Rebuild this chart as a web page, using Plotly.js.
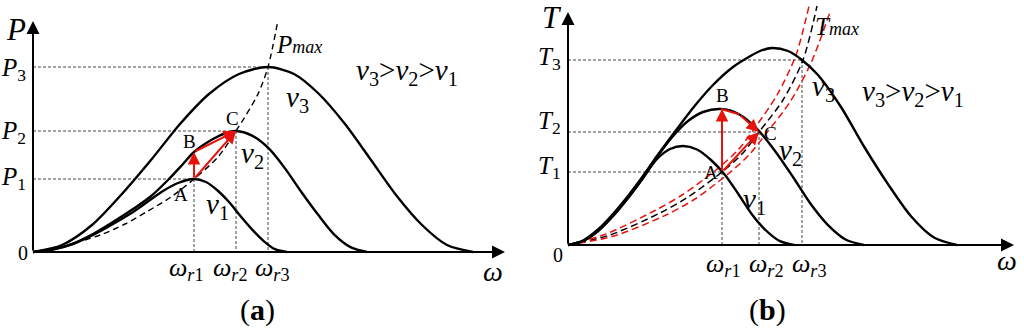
<!DOCTYPE html>
<html>
<head>
<meta charset="utf-8">
<script src="https://cdn.plot.ly/plotly-3.0.1.min.js"></script>
<style>html,body{margin:0;padding:0;background:#fff}</style>
</head>
<body>
<div id="chart" style="width:1024px;height:333px"></div>
<script>
// panel (a): P against omega (arbitrary units)
const aV1x = [0, 20, 40, 60, 80, 100, 117, 130, 145, 161, 173, 184, 196, 207, 219, 231, 242, 254];
const aV1y = [0, 2.5, 8, 17, 28, 40, 52, 61, 69, 73, 70, 62, 50, 36.5, 22.6, 10.7, 2.8, 0];
const aV2x = [0, 20, 40, 60, 80, 100, 117, 135, 150, 161, 180, 193, 203, 219, 236, 252, 268, 285, 301, 318, 334];
const aV2y = [0, 2.6, 8.5, 18, 30, 43, 55, 72, 88, 100, 113, 119, 121, 116.4, 103.3, 83.6, 60.5, 37.4, 17.7, 4.6, 0];
const aV3x = [0, 29, 59, 88, 118, 147, 176, 206, 235, 261, 286, 312, 338, 363, 389, 414, 440];
const aV3y = [0, 7, 27, 57, 92, 128, 158, 178, 185, 178, 158, 128, 92, 57, 27, 7, 0];
const aPmaxX = [52, 70, 92, 115, 138, 161, 185, 203, 225, 235, 245];
const aPmaxY = [12, 18, 28, 41, 55, 73, 95, 121, 158, 185, 232];
const aOmega = [161, 203, 235];   // omega_r1..r3
const aLevel = [73, 121, 185];    // P1..P3
const aA = [161, 73], aB = [161, 100], aC = [203, 121];

// panel (b): T against omega
const bV1x = [0, 15, 30, 45, 60, 75, 89, 102, 115, 129, 143, 157, 171, 184, 198, 212, 226];
const bV1y = [0, 4, 14, 29, 47, 67, 86, 96, 99, 95.5, 85, 70, 50, 30.6, 14.5, 3.8, 0];
const bV2x = [0, 15, 30, 45, 60, 75, 89, 106, 120, 135, 153, 171, 189, 207, 225, 242, 260, 278, 296];
const bV2y = [0, 4, 14, 29, 47, 67, 88, 110, 124, 133, 136, 130.8, 116.1, 94, 68, 42, 19.9, 5.2, 0];
const bV3x = [0, 15, 30, 45, 60, 75, 89, 106, 125, 145, 165, 179, 192, 204, 220, 234, 250, 273, 296, 320, 343, 366, 389];
const bV3y = [0, 4.5, 15.5, 31, 49, 69, 89, 112, 137, 160, 178, 187, 194, 197, 194, 185, 170, 138, 98.5, 60.9, 28.8, 7.5, 0];
const bTmaxX = [0, 42, 92, 120, 154, 175, 191, 215, 235, 249];
const bTmaxY = [0, 10, 32, 48, 73, 92, 113, 145, 185, 239];
const bRedUpX = [0, 38, 86, 114, 148, 170, 186, 209, 228, 241];
const bRedUpY = [0, 11, 34, 50, 75, 95, 116, 150, 190, 239];
const bRedLoX = [0, 46, 98, 127, 160, 181, 197, 222, 243, 262];
const bRedLoY = [0, 9, 30, 46, 71, 90, 110, 143, 182, 233];
const bOmega = [154, 191, 234];
const bLevel = [73, 113, 185];
const bA = [154, 73], bB = [154, 136], bC = [191, 113];

const RED = '#e8120c';
const FONT = 'Liberation Serif, Times New Roman, serif';

function curve(x, y, xa, ya, color, dash, w) {
    return { x, y, xaxis: xa, yaxis: ya, mode: 'lines', cliponaxis: false, hoverinfo: 'skip',
             line: { color, width: w || 2.4, dash: dash || 'solid', shape: 'spline', smoothing: 0.8 } };
}

// thin dashed guides: horizontal to the point, vertical down to the axis
function guides(om, lev, xa, ya) {
    let xs = [], ys = [];
    for (let i = 0; i < om.length; i++) {
        xs.push(0, om[i], null, om[i], om[i], null);
        ys.push(lev[i], lev[i], null, lev[i], 0, null);
    }
    return { x: xs, y: ys, xaxis: xa, yaxis: ya, mode: 'lines', hoverinfo: 'skip',
             line: { color: '#444', width: 1, dash: '3px,2px' } };
}

// red line along v2 from B towards C (panel b)
let bArcX = [], bArcY = [];
bV2x.forEach((x, i) => { if (x >= bB[0] - 1 && x <= 171) { bArcX.push(x); bArcY.push(bV2y[i]); } });

const data = [
    guides(aOmega, aLevel, 'x', 'y'),
    guides(bOmega, bLevel, 'x2', 'y2'),
    curve(aPmaxX, aPmaxY, 'x', 'y', '#000', '6px,4px', 1.4),
    curve(aV1x, aV1y, 'x', 'y', '#000'),
    curve(aV2x, aV2y, 'x', 'y', '#000'),
    curve(aV3x, aV3y, 'x', 'y', '#000'),
    curve(bTmaxX, bTmaxY, 'x2', 'y2', '#000', '7px,4px', 1.5),
    curve(bRedUpX, bRedUpY, 'x2', 'y2', RED, '7px,4px', 1.5),
    curve(bRedLoX, bRedLoY, 'x2', 'y2', RED, '7px,4px', 1.5),
    curve(bV1x, bV1y, 'x2', 'y2', '#000'),
    curve(bV2x, bV2y, 'x2', 'y2', '#000'),
    curve(bV3x, bV3y, 'x2', 'y2', '#000'),
    curve(bArcX, bArcY, 'x2', 'y2', RED, 'solid', 2)
];

function arrow(from, to, xa, ya, color, size) {
    return { x: to[0], y: to[1], ax: from[0], ay: from[1], xref: xa, yref: ya, axref: xa, ayref: ya,
             text: '', showarrow: true, arrowhead: 2, arrowsize: size || 1, arrowwidth: 2,
             arrowcolor: color, standoff: 0, startstandoff: 0 };
}
function label(text, x, y, xa, ya, size, opts) {
    return Object.assign({ text, x, y, xref: xa, yref: ya, showarrow: false,
             font: { family: FONT, size, color: '#000' } }, opts || {});
}

const sub = (n) => '<sub>' + n + '</sub>';
const ann = [
    // axes
    arrow([0, 0], [472, 0], 'x', 'y', '#000', 1.3),
    arrow([0, 0], [0, 231], 'x', 'y', '#000', 1.3),
    arrow([0, 0], [446, 0], 'x2', 'y2', '#000', 1.3),
    arrow([0, 0], [0, 233], 'x2', 'y2', '#000', 1.3),
    // red transitions
    arrow(aA, aB, 'x', 'y', RED, 1.25),
    arrow(aB, aC, 'x', 'y', RED, 1.25),
    arrow(aA, aC, 'x', 'y', RED, 1.25),
    arrow(bA, bB, 'x2', 'y2', RED, 1.25),
    arrow([171, 130.8], bC, 'x2', 'y2', RED, 1.25),
    arrow(bA, bC, 'x2', 'y2', RED, 1.25),

    // panel (a) text
    label('<i>P</i>', -17, 223, 'x', 'y', 31),
    label('<i>P</i>' + sub(3), -5, aLevel[2], 'x', 'y', 25, { xanchor: 'right', yshift: -2 }),
    label('<i>P</i>' + sub(2), -5, aLevel[1], 'x', 'y', 25, { xanchor: 'right', yshift: -1 }),
    label('<i>P</i>' + sub(1), -5, aLevel[0], 'x', 'y', 25, { xanchor: 'right', yshift: 1 }),
    label('0', -3, 0, 'x', 'y', 20, { xanchor: 'right', yshift: -1 }),
    label('<i>ω</i>' + sub('<i>r</i>1'), aOmega[0], -17, 'x', 'y', 26, { xshift: -8 }),
    label('<i>ω</i>' + sub('<i>r</i>2'), aOmega[1], -17, 'x', 'y', 26, { xshift: -6 }),
    label('<i>ω</i>' + sub('<i>r</i>3'), aOmega[2], -17, 'x', 'y', 26, { xshift: 4 }),
    label('<i>ω</i>', 460, -19, 'x', 'y', 28),
    label('(<b>a</b>)', 224, -58, 'x', 'y', 30),
    label('A', 148, 58, 'x', 'y', 19),
    label('B', 156, 111, 'x', 'y', 19),
    label('C', 199, 134, 'x', 'y', 19),
    label('<i>v</i>' + sub(1), 184, 46, 'x', 'y', 29),
    label('<i>v</i>' + sub(2), 219, 97, 'x', 'y', 29),
    label('<i>v</i>' + sub(3), 264, 153, 'x', 'y', 29),
    label('<i>P<span style="font-size:18px">max</span></i>', 266, 208, 'x', 'y', 25),
    label('<i>v</i>' + sub(3) + '><i>v</i>' + sub(2) + '><i>v</i>' + sub(1), 374, 180, 'x', 'y', 29),

    // panel (b) text
    label('<i>T</i>', -16, 228, 'x2', 'y2', 31),
    label('<i>T</i>' + sub(3), -5, bLevel[2], 'x2', 'y2', 25, { xanchor: 'right', yshift: 2 }),
    label('<i>T</i>' + sub(2), -5, bLevel[1], 'x2', 'y2', 25, { xanchor: 'right', yshift: 10 }),
    label('<i>T</i>' + sub(1), -5, bLevel[0], 'x2', 'y2', 25, { xanchor: 'right', yshift: 5 }),
    label('0', -3, 0, 'x2', 'y2', 20, { xanchor: 'right', yshift: -10 }),
    label('<i>ω</i>' + sub('<i>r</i>1'), bOmega[0], -20, 'x2', 'y2', 26, { xshift: 1 }),
    label('<i>ω</i>' + sub('<i>r</i>2'), bOmega[1], -20, 'x2', 'y2', 26, { xshift: 7 }),
    label('<i>ω</i>' + sub('<i>r</i>3'), bOmega[2], -20, 'x2', 'y2', 26, { xshift: 7 }),
    label('<i>ω</i>', 439, -15, 'x2', 'y2', 28),
    label('(<b>b</b>)', 199, -65, 'x2', 'y2', 30),
    label('A', 143, 73, 'x2', 'y2', 19),
    label('B', 154, 150, 'x2', 'y2', 19),
    label('C', 202, 112, 'x2', 'y2', 19),
    label('<i>v</i>' + sub(1), 186, 44, 'x2', 'y2', 29),
    label('<i>v</i>' + sub(2), 222, 93, 'x2', 'y2', 29),
    label('<i>v</i>' + sub(3), 255, 157, 'x2', 'y2', 29),
    label('<i>T<span style="font-size:18px">max</span></i>', 269, 219, 'x2', 'y2', 25),
    label('<i>v</i>' + sub(3) + '><i>v</i>' + sub(2) + '><i>v</i>' + sub(1), 345, 152, 'x2', 'y2', 29)
];

// each panel spans its half of the page; 1 data unit = 1 pixel, origin placed as in the figure
const hidden = { visible: false, showgrid: false, zeroline: false, fixedrange: true };
const layout = {
    width: 1024, height: 333,
    margin: { l: 0, r: 0, t: 0, b: 0 },
    paper_bgcolor: '#fff', plot_bgcolor: '#fff',
    showlegend: false,
    xaxis:  Object.assign({ domain: [0, 0.5], range: [-33, 479] }, hidden),
    yaxis:  Object.assign({ domain: [0, 1], range: [-81, 252] }, hidden),
    xaxis2: Object.assign({ domain: [0.5, 1], range: [-56, 456], anchor: 'y2' }, hidden),
    yaxis2: Object.assign({ domain: [0, 1], range: [-88, 245], anchor: 'x2' }, hidden),
    annotations: ann
};

Plotly.newPlot('chart', data, layout, { staticPlot: true });
</script>
</body>
</html>
